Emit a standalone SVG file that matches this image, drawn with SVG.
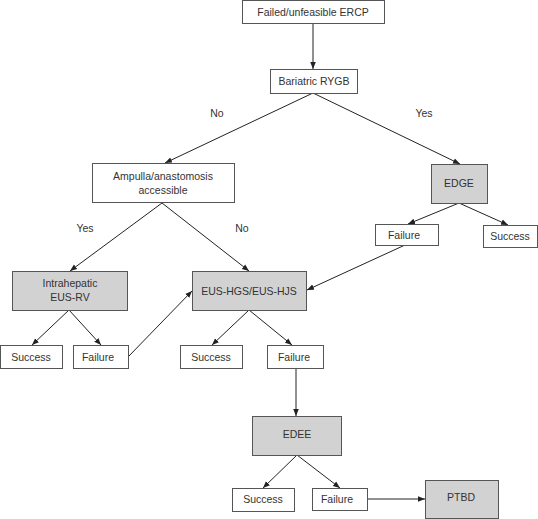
<svg xmlns="http://www.w3.org/2000/svg" width="538" height="519" viewBox="0 0 538 519">
<defs>
<marker id="ah" viewBox="0 0 10 10" refX="10" refY="5" markerWidth="7" markerHeight="7" orient="auto" markerUnits="userSpaceOnUse">
<path d="M0,1 L10,5 L0,9 Z" fill="#222"/>
</marker>
<style>
.b{fill:#fff;stroke:#555;stroke-width:1}
.g{fill:#d2d2d2;stroke:#555;stroke-width:1}
text{font-family:"Liberation Sans",Arial,sans-serif;font-size:10.5px;fill:#333;text-anchor:middle;dominant-baseline:central}
.c line{stroke:#222;stroke-width:1;marker-end:url(#ah)}
</style>
</defs>
<rect width="538" height="519" fill="#fff"/>
<g class="c" id="connectors">
<line x1="313" y1="23" x2="313" y2="69"/>
<line x1="313" y1="93" x2="165" y2="163"/>
<line x1="313" y1="93" x2="460" y2="164"/>
<line x1="162" y1="203" x2="70" y2="271"/>
<line x1="162" y1="203" x2="249" y2="271"/>
<line x1="459" y1="203" x2="408" y2="224"/>
<line x1="459" y1="203" x2="508" y2="225"/>
<line x1="405" y1="245" x2="307" y2="290"/>
<line x1="69" y1="310" x2="32" y2="345"/>
<line x1="69" y1="310" x2="101" y2="345"/>
<line x1="128" y1="357" x2="192" y2="291"/>
<line x1="249" y1="310" x2="212" y2="345"/>
<line x1="249" y1="310" x2="292" y2="345"/>
<line x1="296" y1="368" x2="296" y2="416"/>
<line x1="297" y1="455" x2="263" y2="488"/>
<line x1="297" y1="455" x2="340" y2="488"/>
<line x1="367" y1="499" x2="425" y2="499"/>
</g>
<g id="labels">
<text x="217" y="113">No</text>
<text x="424" y="113">Yes</text>
<text x="85" y="228">Yes</text>
<text x="242" y="228">No</text>
</g>
<g id="n1"><rect class="b" x="242.5" y="0.5" width="142" height="23"/><text x="313" y="12">Failed/unfeasible ERCP</text></g>
<g id="n2"><rect class="b" x="270.5" y="69.5" width="87" height="24"/><text x="314" y="81">Bariatric RYGB</text></g>
<g id="n3"><rect class="b" x="92.5" y="163.5" width="142" height="39"/><text x="163" y="176">Ampulla/anastomosis</text><text x="163" y="190">accessible</text></g>
<g id="n4"><rect class="g" x="431.5" y="164.5" width="56" height="39"/><text x="459" y="183">EDGE</text></g>
<g id="n5"><rect class="b" x="375.5" y="224.5" width="63" height="21"/><text x="404" y="235">Failure</text></g>
<g id="n6"><rect class="b" x="483.5" y="225.5" width="54" height="22"/><text x="510" y="236">Success</text></g>
<g id="n7"><rect class="g" x="12.5" y="271.5" width="115" height="39"/><text x="70" y="283">Intrahepatic</text><text x="70" y="297">EUS-RV</text></g>
<g id="n8"><rect class="g" x="192.5" y="271.5" width="114" height="39"/><text x="249" y="291">EUS-HGS/EUS-HJS</text></g>
<g id="n9"><rect class="b" x="0.5" y="345.5" width="62" height="23"/><text x="31" y="357">Success</text></g>
<g id="n10"><rect class="b" x="73.5" y="345.5" width="55" height="23"/><text x="98" y="357">Failure</text></g>
<g id="n11"><rect class="b" x="180.5" y="345.5" width="62" height="23"/><text x="211" y="357">Success</text></g>
<g id="n12"><rect class="b" x="267.5" y="345.5" width="56" height="23"/><text x="294" y="357">Failure</text></g>
<g id="n13"><rect class="g" x="252.5" y="416.5" width="89" height="39"/><text x="297" y="434">EDEE</text></g>
<g id="n14"><rect class="b" x="232.5" y="488.5" width="62" height="23"/><text x="263" y="499">Success</text></g>
<g id="n15"><rect class="b" x="312.5" y="488.5" width="55" height="22"/><text x="337" y="499">Failure</text></g>
<g id="n16"><rect class="g" x="425.5" y="480.5" width="73" height="38"/><text x="461" y="497">PTBD</text></g>
</svg>
